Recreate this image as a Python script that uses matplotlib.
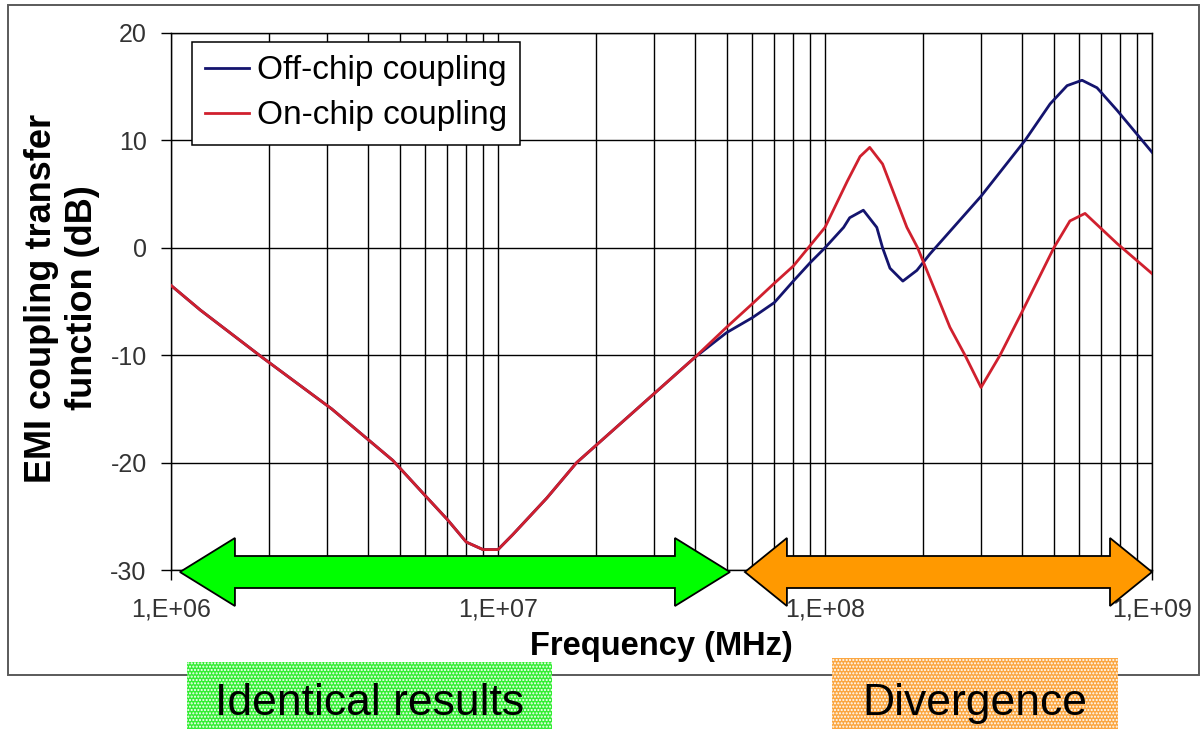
import matplotlib
matplotlib.use("Agg")
import matplotlib.pyplot as plt
import numpy as np
from matplotlib.patches import Polygon, Rectangle
from matplotlib.transforms import IdentityTransform
from matplotlib.ticker import LogLocator, FixedLocator, FixedFormatter, NullFormatter

plt.rcParams['font.family'] = ['Liberation Sans', 'DejaVu Sans']
plt.rcParams['axes.unicode_minus'] = False

# ---------------- data ----------------
# common part (both models give identical results)
f_shared = [1.0e6, 1.23e6, 1.9e6, 3.1e6, 4.77e6, 6.0e6, 7.0e6, 8.0e6, 9.0e6, 1.0e7,
            1.11e7, 1.41e7, 1.74e7, 4.0e7]
v_shared = [-3.5, -5.8, -10.2, -15.0, -19.8, -23.1, -25.3, -27.4, -28.1, -28.1,
            -26.7, -23.3, -20.0, -10.2]

# off-chip coupling (blue) after divergence
f_off = [5.0e7, 6.0e7, 7.0e7, 8.0e7, 9.0e7, 1.0e8, 1.14e8, 1.19e8, 1.31e8, 1.44e8,
         1.50e8, 1.58e8, 1.73e8, 1.91e8, 2.09e8, 3.0e8, 4.09e8, 4.88e8, 5.5e8,
         6.11e8, 6.79e8, 7.82e8, 1.0e9]
v_off = [-7.9, -6.5, -5.1, -3.1, -1.4, 0.0, 1.9, 2.8, 3.5, 1.9,
         0.0, -1.9, -3.1, -2.1, -0.6, 4.8, 10.0, 13.4, 15.1,
         15.6, 14.9, 12.8, 8.9]

# on-chip coupling (red) after divergence
f_on = [5.0e7, 6.0e7, 7.0e7, 8.0e7, 9.0e7, 1.0e8, 1.17e8, 1.28e8, 1.37e8, 1.50e8,
        1.78e8, 1.92e8, 2.41e8, 2.68e8, 3.0e8, 3.43e8, 4.0e8, 5.01e8, 5.61e8,
        6.24e8, 7.82e8, 1.0e9]
v_on = [-7.4, -5.2, -3.3, -1.7, 0.2, 1.9, 6.2, 8.5, 9.35, 7.8,
        1.9, 0.0, -7.4, -10.0, -13.0, -10.0, -6.0, 0.0, 2.5,
        3.2, 0.4, -2.4]

series_labels = ["Off-chip coupling", "On-chip coupling"]
xtick_vals = [1e6, 1e7, 1e8, 1e9]
xtick_labels = ["1,E+06", "1,E+07", "1,E+08", "1,E+09"]
ytick_vals = [-30, -20, -10, 0, 10, 20]

# arrow spans (frequency range) and region captions
green_span = [1.065e6, 5.12e7]
orange_span = [5.69e7, 1.0e9]
captions = ["Identical results", "Divergence"]

# ---------------- figure ----------------
W, H = 1203, 729
fig = plt.figure(figsize=(W / 100, H / 100), dpi=100)

def px_rect(x0, y0, x1, y1):
    return [x0 / W, 1 - y1 / H, (x1 - x0) / W, (y1 - y0) / H]

ax = fig.add_axes(px_rect(171, 33, 1152, 570))

off_f = f_shared + f_off
off_v = v_shared + v_off
on_f = f_shared + f_on
on_v = v_shared + v_on

ax.plot(off_f, off_v, color='#14146e', lw=2.0, label=series_labels[0], zorder=3)
ax.plot(on_f, on_v, color='#d0202e', lw=2.0, label=series_labels[1], zorder=4)

ax.set_xscale('log')
ax.set_xlim(1e6, 1e9)
ax.set_ylim(-30, 20)

ax.xaxis.set_major_locator(FixedLocator(xtick_vals))
ax.xaxis.set_major_formatter(FixedFormatter(xtick_labels))
ax.xaxis.set_minor_locator(LogLocator(base=10, subs=np.arange(2, 10)))
ax.xaxis.set_minor_formatter(NullFormatter())
ax.set_yticks(ytick_vals)

ax.grid(True, which='both', axis='x', color='black', lw=1.0)
ax.grid(True, which='major', axis='y', color='black', lw=1.0)
for s in ax.spines.values():
    s.set_color('black')
    s.set_linewidth(1.0)

ax.tick_params(axis='y', direction='out', length=7, width=1, pad=10.5,
               labelsize=18, labelcolor='#333333')
ax.tick_params(axis='x', which='major', direction='out', length=7, width=1, pad=13,
               labelsize=18, labelcolor='#333333')
ax.tick_params(axis='x', which='minor', length=0)

leg = ax.legend(loc='upper left', bbox_to_anchor=(0.0214, 0.983), fontsize=24,
                frameon=True, fancybox=False, edgecolor='black', framealpha=1,
                handlelength=1.3, handletextpad=0.25, borderpad=0.4,
                labelspacing=0.42, borderaxespad=0)
leg.get_frame().set_linewidth(1.1)
leg.set_zorder(10)

# axis titles
fig.text(62 / W, 1 - 298 / H, "EMI coupling transfer\nfunction (dB)", rotation=90,
         ha='center', va='center', fontsize=26, fontweight='bold', linespacing=1.2,
         multialignment='center')
fig.text(661 / W, 1 - 655 / H, "Frequency (MHz)", ha='center', va='baseline',
         fontsize=23.5, fontweight='bold')

# outer frame
fig.add_artist(Rectangle((8 / W, 1 - 675 / H), 1191 / W, 670 / H, fill=False,
                         edgecolor='#5a5a5a', lw=1.4, transform=fig.transFigure, zorder=1))

# double arrows at the bottom of the plot
def double_arrow(fa, fb, head_len, color):
    xa, yc = ax.transData.transform((fa, -30))
    xb, _ = ax.transData.transform((fb, -30))
    yc -= 2
    hh, sh = 34, 16
    pts = [(xa, yc), (xa + head_len, yc + hh), (xa + head_len, yc + sh),
           (xb - head_len, yc + sh), (xb - head_len, yc + hh), (xb, yc),
           (xb - head_len, yc - hh), (xb - head_len, yc - sh),
           (xa + head_len, yc - sh), (xa + head_len, yc - hh)]
    fig.add_artist(Polygon(pts, closed=True, facecolor=color, edgecolor='black',
                           lw=1.3, transform=IdentityTransform(), zorder=5))

double_arrow(green_span[0], green_span[1], 55, '#00ff00')
double_arrow(orange_span[0], orange_span[1], 42, '#ff9900')

# caption boxes
def caption(x0, y0, x1, y1, face, text):
    fig.add_artist(Rectangle((x0 / W, 1 - y1 / H), (x1 - x0) / W, (y1 - y0) / H,
                             facecolor=face, edgecolor='white', lw=0, hatch='.....',
                             transform=fig.transFigure, zorder=6))
    fig.text((x0 + x1) / 2 / W, 1 - 715 / H, text, ha='center', va='baseline',
             fontsize=32, color='black', zorder=7)

caption(187, 662, 552, 729, '#33ee33', captions[0])
caption(832, 658, 1118, 729, '#fba640', captions[1])

fig.savefig("out.png", dpi=100)
